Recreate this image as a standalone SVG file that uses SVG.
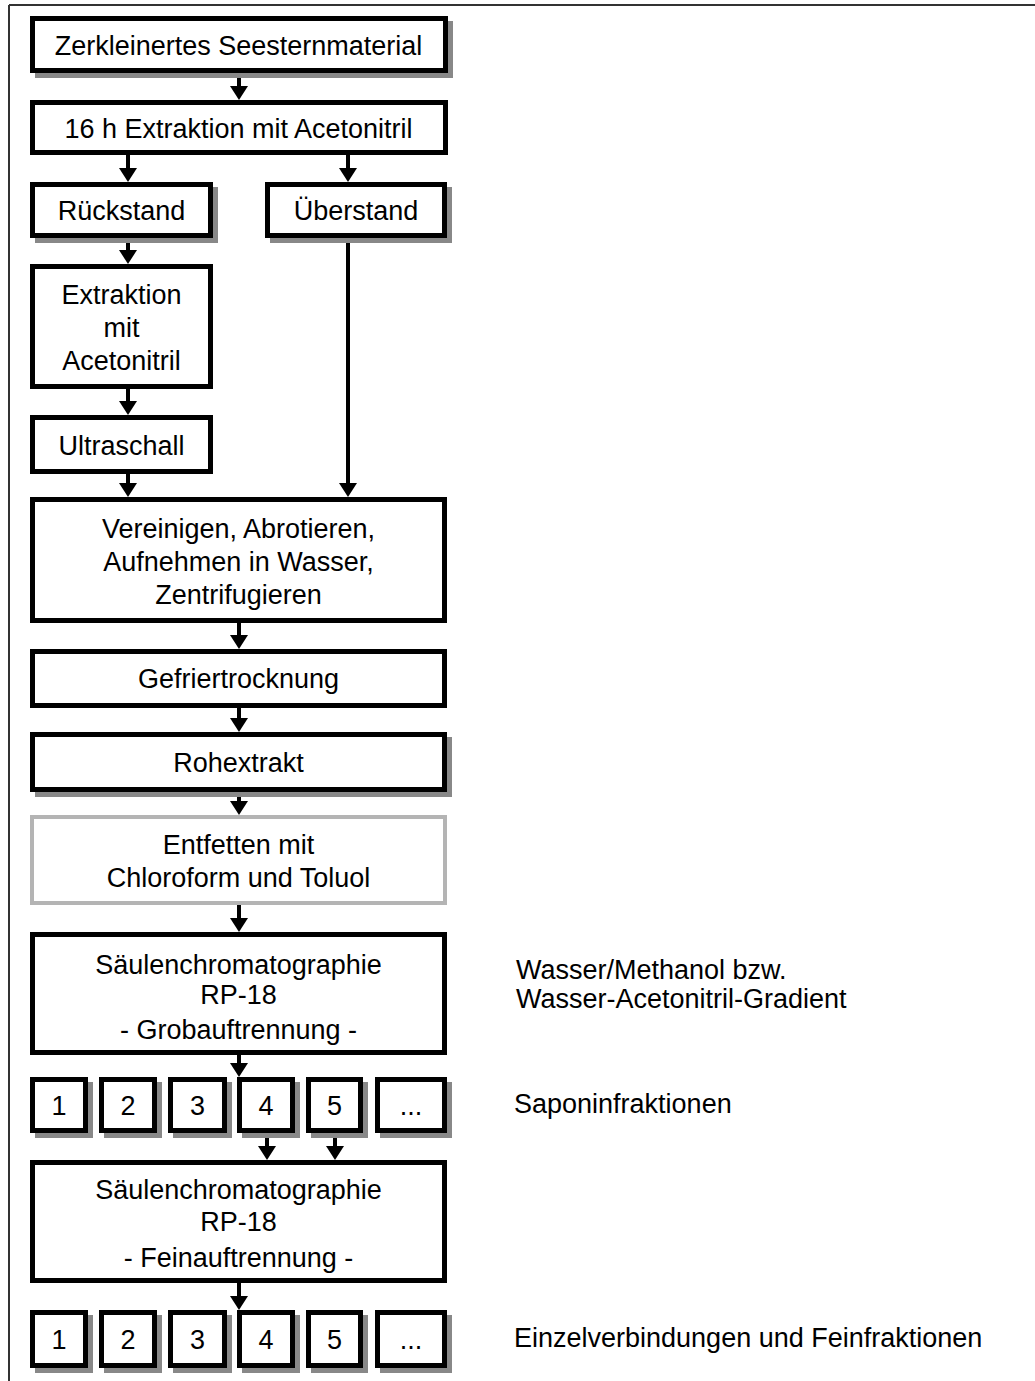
<svg xmlns="http://www.w3.org/2000/svg" width="1035" height="1381" viewBox="0 0 1035 1381">
<style>
.bx{fill:#fff;stroke:#000;stroke-width:5}
.gb{fill:#fff;stroke:#b4b4b4;stroke-width:4}
.sh{fill:#888}
.t{font-family:"Liberation Sans",Arial,sans-serif;font-size:27px;fill:#000;text-anchor:middle}
.tl{font-family:"Liberation Sans",Arial,sans-serif;font-size:27px;fill:#000}
.c{stroke:#000;stroke-width:4;fill:none;marker-end:url(#ah)}
</style>
<defs>
<marker id="ah" markerUnits="userSpaceOnUse" markerWidth="16" markerHeight="20" refX="0" refY="9" orient="auto" viewBox="0 0 16 18">
<path d="M0,0 L14,9 L0,18 Z" fill="#000"/>
</marker>
</defs>
<rect width="1035" height="1381" fill="#fff"/>
<g id="frame" fill="none" stroke="#333" stroke-width="2">
<line x1="9" y1="5" x2="1035" y2="5"/>
<line x1="9" y1="5" x2="9" y2="1381"/>
</g>
<g id="connectors">
<line class="c" x1="239" y1="73" x2="239" y2="86"/>
<line class="c" x1="128" y1="155" x2="128" y2="168"/>
<line class="c" x1="348" y1="155" x2="348" y2="168"/>
<line class="c" x1="128" y1="238" x2="128" y2="250"/>
<line class="c" x1="128" y1="389" x2="128" y2="401"/>
<line class="c" x1="128" y1="474" x2="128" y2="483"/>
<line class="c" x1="348" y1="238" x2="348" y2="483"/>
<line class="c" x1="239" y1="623" x2="239" y2="635"/>
<line class="c" x1="239" y1="708" x2="239" y2="718"/>
<line class="c" x1="239" y1="792" x2="239" y2="801"/>
<line class="c" x1="239" y1="905" x2="239" y2="918"/>
<line class="c" x1="239" y1="1055" x2="239" y2="1063"/>
<line class="c" x1="267" y1="1133" x2="267" y2="1146"/>
<line class="c" x1="335" y1="1133" x2="335" y2="1146"/>
<line class="c" x1="239" y1="1283" x2="239" y2="1296"/>
</g>
<g id="n1"><rect class="sh" x="35" y="21" width="418" height="57"/><rect class="bx" x="32.5" y="18.5" width="413" height="52"/><text class="t" x="238.5" y="55">Zerkleinertes Seesternmaterial</text></g>
<g id="n2"><rect class="bx" x="32.5" y="102.5" width="413" height="50"/><text class="t" x="238.5" y="138">16 h Extraktion mit Acetonitril</text></g>
<g id="n3"><rect class="sh" x="35" y="187" width="183" height="56"/><rect class="bx" x="32.5" y="184.5" width="178" height="51"/><text class="t" x="121.5" y="220">Rückstand</text></g>
<g id="n4"><rect class="sh" x="270" y="187" width="182" height="56"/><rect class="bx" x="267.5" y="184.5" width="177" height="51"/><text class="t" x="356" y="220">Überstand</text></g>
<g id="n5"><rect class="bx" x="32.5" y="266.5" width="178" height="120"/><text class="t" x="121.5" y="304">Extraktion</text><text class="t" x="121.5" y="337">mit</text><text class="t" x="121.5" y="370">Acetonitril</text></g>
<g id="n6"><rect class="bx" x="32.5" y="417.5" width="178" height="54"/><text class="t" x="121.5" y="455">Ultraschall</text></g>
<g id="n7"><rect class="bx" x="32.5" y="499.5" width="412" height="121"/><text class="t" x="238.5" y="538">Vereinigen, Abrotieren,</text><text class="t" x="238.5" y="571">Aufnehmen in Wasser,</text><text class="t" x="238.5" y="604">Zentrifugieren</text></g>
<g id="n8"><rect class="bx" x="32.5" y="651.5" width="412" height="54"/><text class="t" x="238.5" y="688">Gefriertrocknung</text></g>
<g id="n9"><rect class="sh" x="35" y="737" width="417" height="60"/><rect class="bx" x="32.5" y="734.5" width="412" height="55"/><text class="t" x="238.5" y="772">Rohextrakt</text></g>
<g id="n10"><rect class="gb" x="32" y="817" width="413" height="86"/><text class="t" x="238.5" y="854">Entfetten mit</text><text class="t" x="238.5" y="887">Chloroform und Toluol</text></g>
<g id="n11"><rect class="bx" x="32.5" y="934.5" width="412" height="118"/><text class="t" x="238.5" y="974">Säulenchromatographie</text><text class="t" x="238.5" y="1004">RP-18</text><text class="t" x="238.5" y="1039">- Grobauftrennung -</text></g>
<g id="r1">
<g id="r1b1"><rect class="sh" x="35" y="1082" width="58" height="56"/><rect class="bx" x="32.5" y="1079.5" width="53" height="51"/><text class="t" x="59" y="1115">1</text></g>
<g id="r1b2"><rect class="sh" x="104" y="1082" width="58" height="56"/><rect class="bx" x="101.5" y="1079.5" width="53" height="51"/><text class="t" x="128" y="1115">2</text></g>
<g id="r1b3"><rect class="sh" x="173" y="1082" width="59" height="56"/><rect class="bx" x="170.5" y="1079.5" width="54" height="51"/><text class="t" x="197.5" y="1115">3</text></g>
<g id="r1b4"><rect class="sh" x="242" y="1082" width="58" height="56"/><rect class="bx" x="239.5" y="1079.5" width="53" height="51"/><text class="t" x="266" y="1115">4</text></g>
<g id="r1b5"><rect class="sh" x="311" y="1082" width="57" height="56"/><rect class="bx" x="308.5" y="1079.5" width="52" height="51"/><text class="t" x="334.5" y="1115">5</text></g>
<g id="r1b6"><rect class="sh" x="380" y="1082" width="72" height="56"/><rect class="bx" x="377.5" y="1079.5" width="67" height="51"/><text class="t" x="411" y="1115">...</text></g>
</g>
<g id="n12"><rect class="bx" x="32.5" y="1162.5" width="412" height="118"/><text class="t" x="238.5" y="1199">Säulenchromatographie</text><text class="t" x="238.5" y="1231">RP-18</text><text class="t" x="238.5" y="1267">- Feinauftrennung -</text></g>
<g id="r2">
<g id="r2b1"><rect class="sh" x="35" y="1315" width="58" height="58"/><rect class="bx" x="32.5" y="1312.5" width="53" height="53"/><text class="t" x="59" y="1349">1</text></g>
<g id="r2b2"><rect class="sh" x="104" y="1315" width="58" height="58"/><rect class="bx" x="101.5" y="1312.5" width="53" height="53"/><text class="t" x="128" y="1349">2</text></g>
<g id="r2b3"><rect class="sh" x="173" y="1315" width="59" height="58"/><rect class="bx" x="170.5" y="1312.5" width="54" height="53"/><text class="t" x="197.5" y="1349">3</text></g>
<g id="r2b4"><rect class="sh" x="242" y="1315" width="58" height="58"/><rect class="bx" x="239.5" y="1312.5" width="53" height="53"/><text class="t" x="266" y="1349">4</text></g>
<g id="r2b5"><rect class="sh" x="311" y="1315" width="57" height="58"/><rect class="bx" x="308.5" y="1312.5" width="52" height="53"/><text class="t" x="334.5" y="1349">5</text></g>
<g id="r2b6"><rect class="sh" x="380" y="1315" width="72" height="58"/><rect class="bx" x="377.5" y="1312.5" width="67" height="53"/><text class="t" x="411" y="1349">...</text></g>
</g>
<g id="notes">
<text class="tl" x="516" y="979">Wasser/Methanol bzw.</text>
<text class="tl" x="516" y="1008">Wasser-Acetonitril-Gradient</text>
<text class="tl" x="514" y="1113">Saponinfraktionen</text>
<text class="tl" x="514" y="1347">Einzelverbindungen und Feinfraktionen</text>
</g>
</svg>
